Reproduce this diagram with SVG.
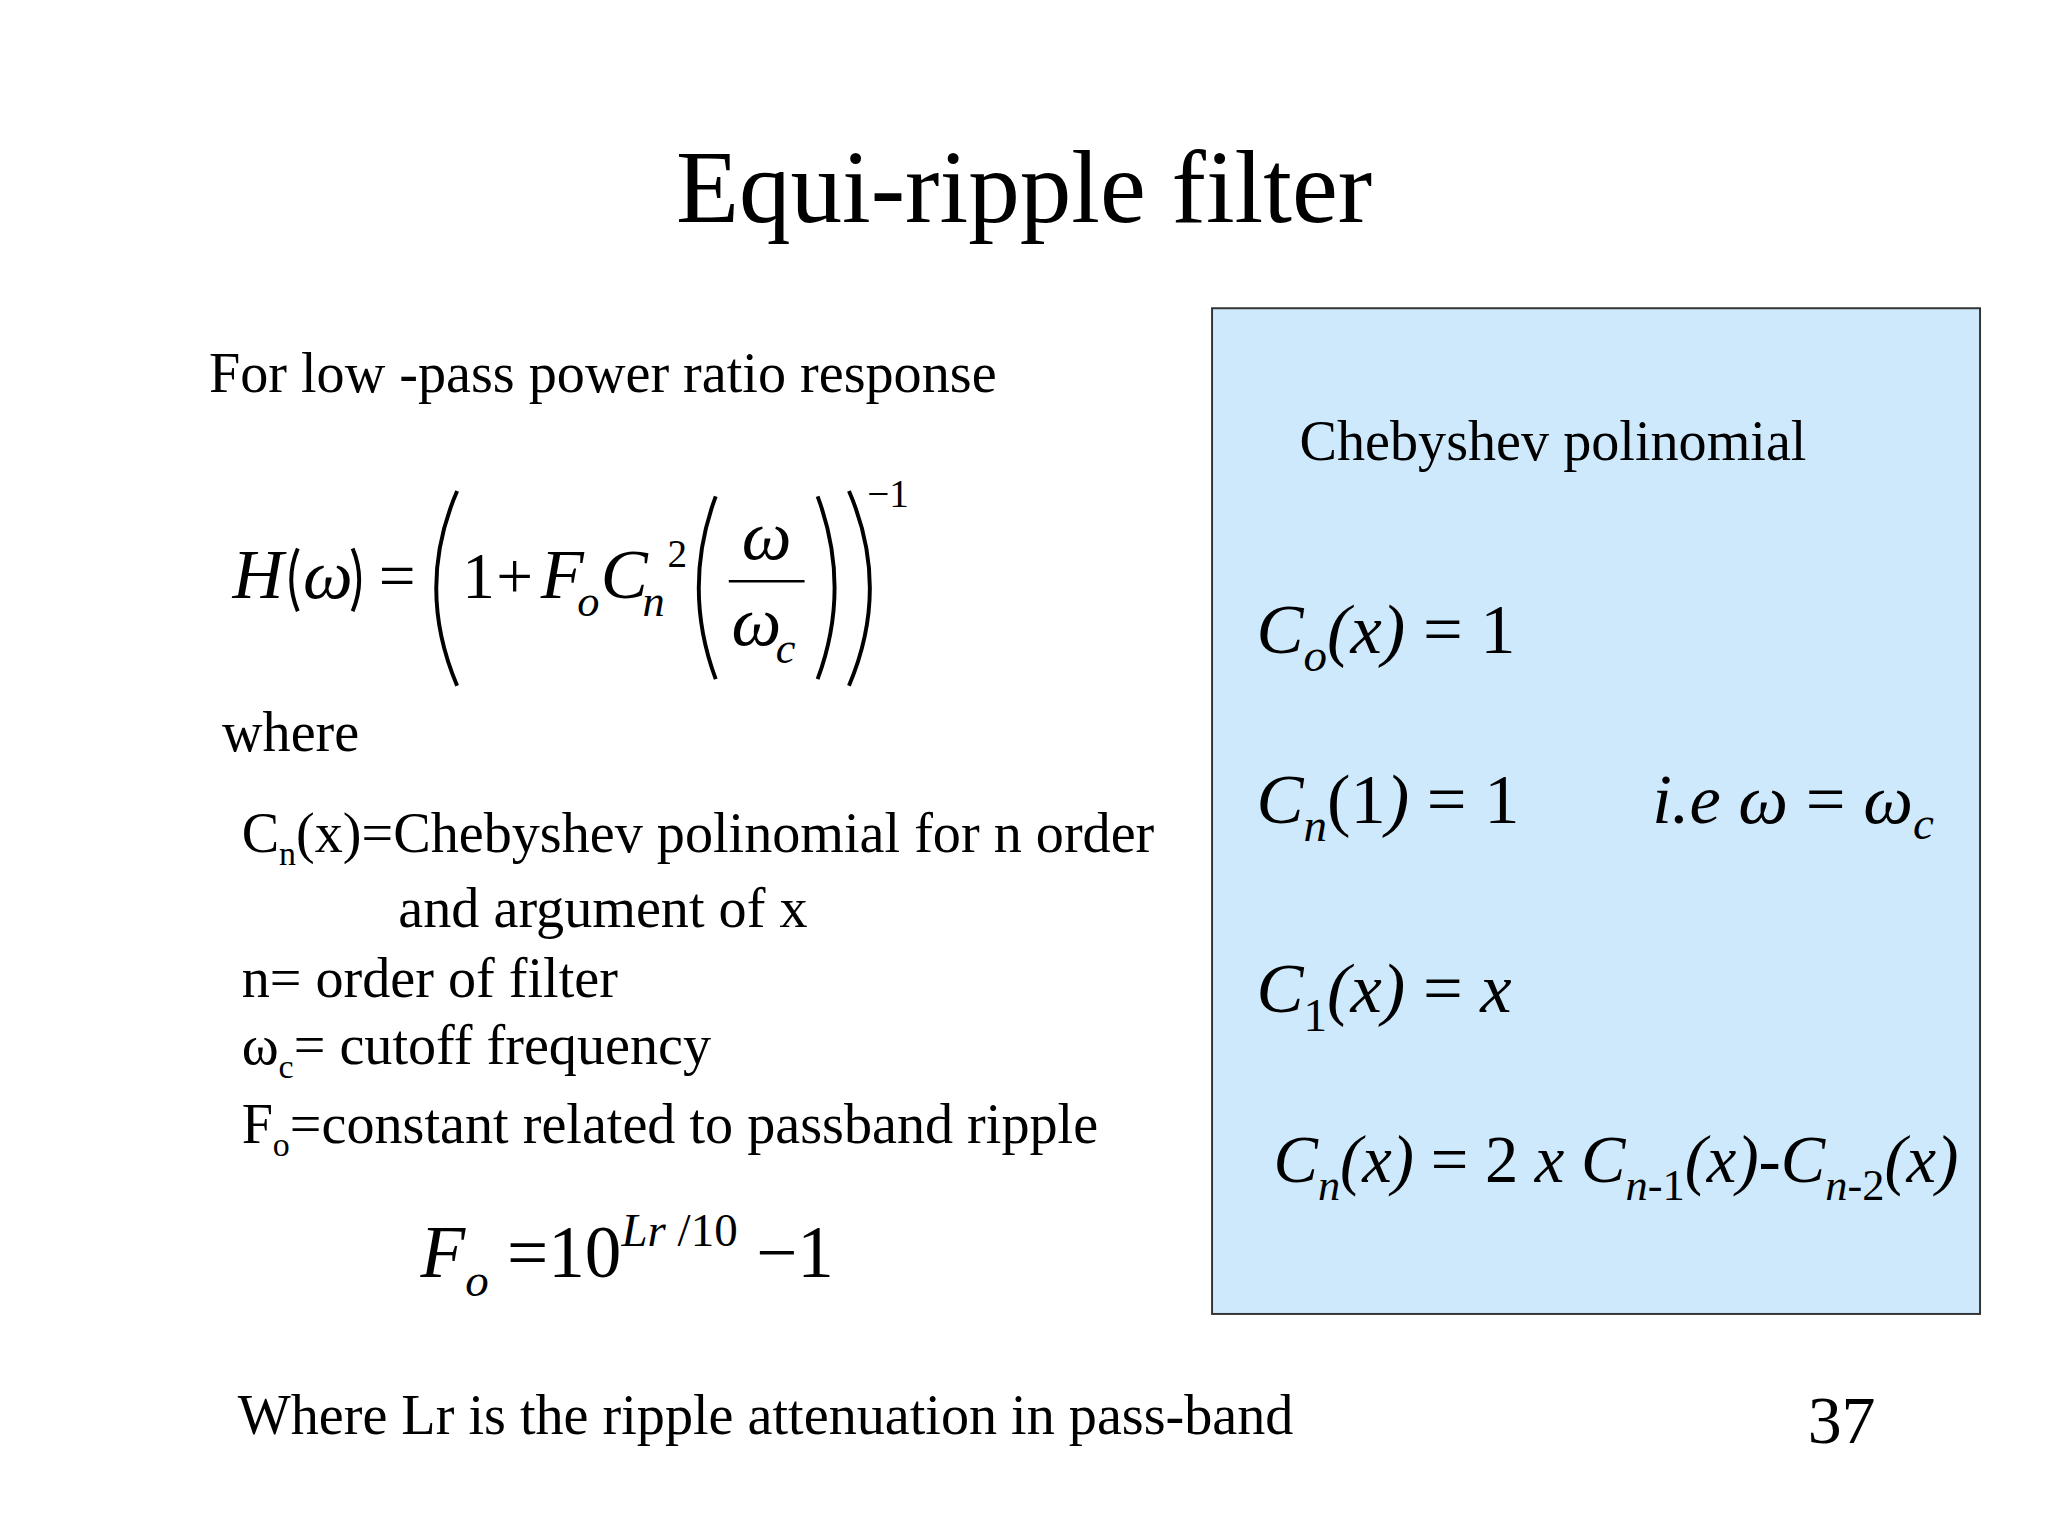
<svg xmlns="http://www.w3.org/2000/svg" width="2048" height="1536" viewBox="0 0 2048 1536">
<style>
text{font-family:"Liberation Serif","Times New Roman",serif;fill:#000}
.t{font-size:43px}
.m{font-size:54px;font-style:italic}
.r{font-style:normal}
.p{fill:none;stroke:#000;stroke-width:3}
</style>
<rect width="2048" height="1536" fill="#fff"/>
<g transform="scale(1.3061)">
<g id="title"><text x="784" y="170" font-size="79" text-anchor="middle">Equi-ripple filter</text></g>
<g id="left">
<text class="t" x="160" y="300">For low -pass power ratio response</text>
<g id="formulaH">
<text class="m" x="178" y="458">H</text>
<path class="p" d="M228 420 Q218 444 228 468"/>
<text class="m" x="232" y="458">ω</text>
<path class="p" d="M270 420 Q280 444 270 468"/>
<text x="290" y="458" font-size="50">=</text>
<path class="p" d="M350 376 Q318 450 350 525"/>
<text x="354" y="458" font-size="50">1</text>
<text x="380" y="458" font-size="50">+</text>
<text class="m" x="414" y="458">F</text>
<text x="442" y="472" font-size="34" font-style="italic">o</text>
<text class="m" x="460" y="458">C</text>
<text x="492" y="472" font-size="34" font-style="italic">n</text>
<text x="511" y="434" font-size="30">2</text>
<path class="p" d="M548 380 Q522 450 548 520"/>
<text class="m" x="568" y="428">ω</text>
<line x1="558" y1="445" x2="616" y2="445" stroke="#000" stroke-width="2"/>
<text class="m" x="560" y="494">ω</text>
<text x="594" y="508" font-size="34" font-style="italic">c</text>
<path class="p" d="M626 380 Q652 450 626 520"/>
<path class="p" d="M650 376 Q682 450 650 525"/>
<text x="664" y="388" font-size="30">−1</text>
</g>
<text class="t" x="170" y="575">where</text>
<text class="t" x="185" y="652">C<tspan font-size="26" dy="10">n</tspan><tspan dy="-10">(x)=Chebyshev polinomial for n order</tspan></text>
<text class="t" x="305" y="710">and argument of x</text>
<text class="t" x="185" y="763">n= order of filter</text>
<text class="t" x="185" y="815">ω<tspan font-size="26" dy="10">c</tspan><tspan dy="-10">= cutoff frequency</tspan></text>
<text class="t" x="185" y="875">F<tspan font-size="26" dy="10">o</tspan><tspan dy="-10">=constant related to passband ripple</tspan></text>
<text x="322" y="978" font-size="56"><tspan font-style="italic">F</tspan><tspan font-size="36" font-style="italic" dy="14">o</tspan><tspan dy="-14"> =10</tspan><tspan font-size="36" dy="-24"><tspan font-style="italic">Lr</tspan> /10</tspan><tspan dy="24"> −1</tspan></text>
<text class="t" x="182" y="1098">Where Lr is the ripple attenuation in pass-band</text>
<text x="1384" y="1105" font-size="52">37</text>
</g>
<g id="box">
<rect x="928" y="236" width="588" height="770" fill="#cfe9fc" stroke="#333" stroke-width="1.5"/>
<text x="995" y="352" font-size="43">Chebyshev polinomial</text>
<text class="m" x="962" y="500">C<tspan font-size="36" dy="14">o</tspan><tspan dy="-14">(x)</tspan><tspan class="r"> = 1</tspan></text>
<text class="m" x="962" y="630">C<tspan font-size="36" dy="14">n</tspan><tspan dy="-14" class="r">(1</tspan><tspan>)</tspan><tspan class="r"> = 1</tspan></text>
<text class="m" x="1265" y="630">i.e ω <tspan class="r">=</tspan> ω<tspan font-size="36" dy="12">c</tspan></text>
<text class="m" x="962" y="775">C<tspan font-size="36" dy="14" class="r">1</tspan><tspan dy="-14">(x)</tspan><tspan class="r"> = </tspan>x</text>
<text class="m" x="975" y="905" style="font-size:51px">C<tspan font-size="34" dy="14">n</tspan><tspan dy="-14">(x)</tspan><tspan class="r"> = 2 </tspan>x C<tspan font-size="34" dy="14">n-<tspan class="r">1</tspan></tspan><tspan dy="-14">(x)-C</tspan><tspan font-size="34" dy="14">n-<tspan class="r">2</tspan></tspan><tspan dy="-14">(x)</tspan></text>
</g>
</g>
</svg>
